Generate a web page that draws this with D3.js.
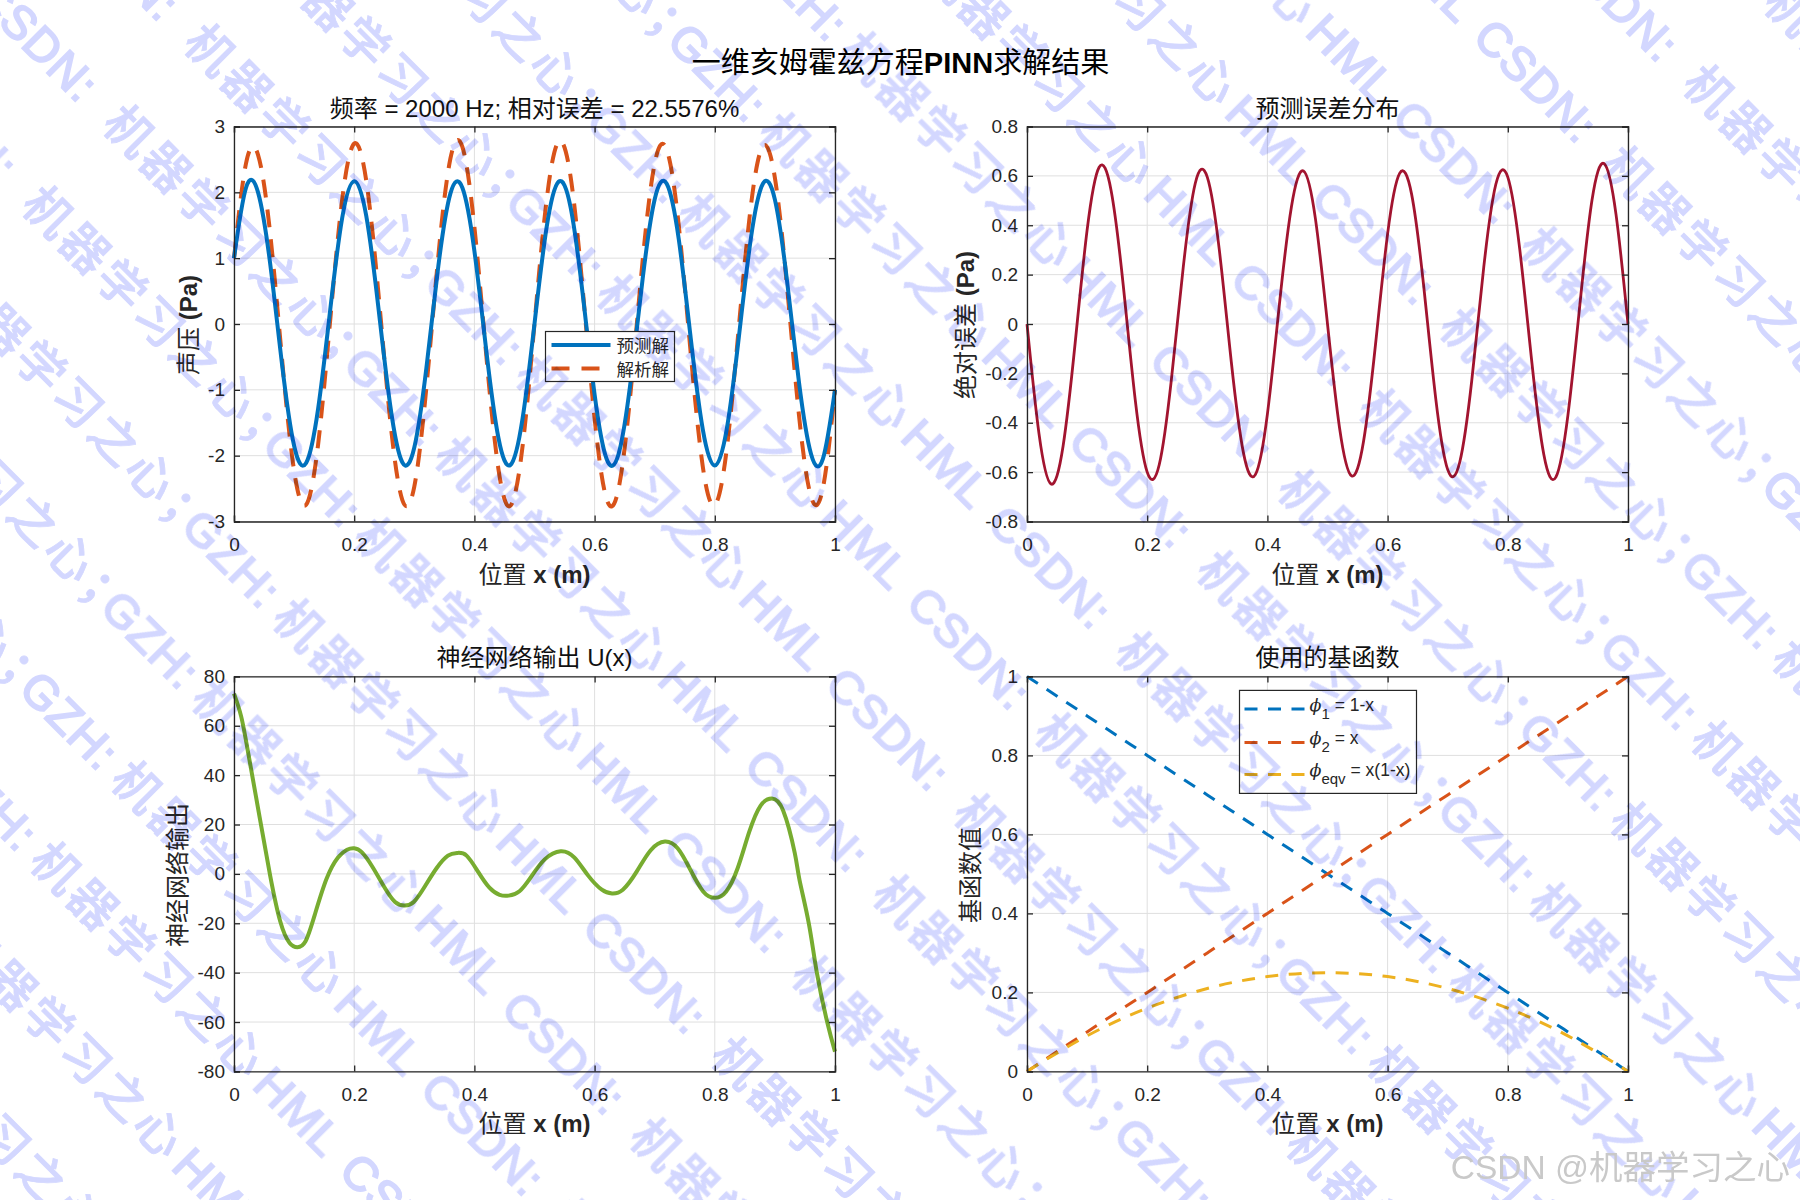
<!DOCTYPE html>
<html>
<head>
<meta charset="utf-8">
<script src="https://cdnjs.cloudflare.com/ajax/libs/d3/7.8.5/d3.min.js"></script>
<style>
  html, body { margin: 0; padding: 0; background: #fff; }
  text { font-family: "Liberation Sans", "Noto Sans CJK SC", sans-serif; fill: #262626; }
  .tick-label { font-size: 19px; }
  .title { font-size: 24px; text-anchor: middle; fill: #111; }
  .label { font-size: 24px; text-anchor: middle; }
  .legend-text { font-size: 17.5px; }
  .bold { font-weight: bold; }
</style>
</head>
<body>
<div id="chart"></div>
<script>
// values
const gridX = [0, 0.02, 0.04, 0.06, 0.08, 0.1, 0.12, 0.14, 0.16, 0.18,
  0.2, 0.22, 0.24, 0.26, 0.28, 0.3, 0.32, 0.34, 0.36, 0.38,
  0.4, 0.42, 0.44, 0.46, 0.48, 0.5, 0.52, 0.54, 0.56, 0.58,
  0.6, 0.62, 0.64, 0.66, 0.68, 0.7, 0.72, 0.74, 0.76, 0.78,
  0.8, 0.82, 0.84, 0.86, 0.88, 0.9, 0.92, 0.94, 0.96, 0.98, 1]
const predicted = [1.0, 2.07, 2.0, 0.93, -0.62, -1.85, -2.11, -1.285, 0.21, 1.61,
  2.17, 1.645, 0.27, -1.24, -2.10, -1.875, -0.675, 0.88, 1.98, 2.07,
  1.11, -0.42, -1.73, -2.14, -1.445, 0.005, 1.46, 2.16, 1.775, 0.47,
  -1.07, -2.05, -1.97, -0.87, 0.69, 1.895, 2.13, 1.29, -0.22, -1.60,
  -2.15, -1.59, -0.20, 1.30, 2.13, 1.89, 0.67, -0.88, -1.97, -2.045, -1.0]
const analytic = [1.0, 2.44, 2.57, 1.39, -0.54, -2.23, -2.745, -1.825, 0.05, 1.89,
  2.74, 2.18, 0.50, -1.47, -2.67, -2.47, -0.975, 1.035, 2.51, 2.69,
  1.475, -0.50, -2.205, -2.76, -1.87, 0.005, 1.87, 2.77, 2.24, 0.55,
  -1.435, -2.66, -2.495, -1.025, 0.97, 2.44, 2.65, 1.50, -0.45, -2.165,
  -2.75, -1.89, -0.045, 1.79, 2.70, 2.22, 0.59, -1.38, -2.62, -2.49, -1.0]
const errors = [0, -0.445, -0.648, -0.495, -0.08, 0.38, 0.635, 0.54, 0.16, -0.305,
  -0.60, -0.57, -0.23, 0.23, 0.57, 0.595, 0.30, -0.155, -0.52, -0.61,
  -0.365, 0.08, 0.475, 0.62, 0.425, 0, -0.42, -0.615, -0.475, -0.08,
  0.365, 0.61, 0.525, 0.155, -0.30, -0.59, -0.56, -0.23, 0.23, 0.565,
  0.595, 0.30, -0.155, -0.53, -0.62, -0.37, 0.08, 0.50, 0.65, 0.445, 0]

const netX = [0, 0.012, 0.024, 0.043, 0.06, 0.077, 0.0925, 0.1055, 0.119, 0.1345, 0.154, 0.173, 0.188, 0.2, 0.2125,
  0.23, 0.249, 0.268, 0.2836, 0.299, 0.318, 0.337, 0.356, 0.3716, 0.387, 0.406, 0.425, 0.442, 0.457,
  0.475, 0.494, 0.517, 0.5436, 0.5665, 0.589, 0.612, 0.629, 0.647, 0.67, 0.693, 0.717, 0.7385, 0.758,
  0.7806, 0.801, 0.819, 0.838, 0.857, 0.876, 0.895, 0.914, 0.933, 0.941, 0.9564, 0.9698, 0.987, 1]
const netOutput = [73, 63.7, 48.5, 22.5, -0.5, -19.3, -28, -29.7, -27.3, -16.5, -2, 6.6, 9.8, 10.4, 8.8,
  3, -4.9, -11.4, -12.8, -11.4, -4.9, 2.3, 7.4, 8.5, 7.4, 0.9, -5.6, -8.5, -8.8,
  -7, -1.3, 5.9, 9.2, 6.6, -0.6, -6.4, -7.9, -6.4, 0.9, 9.5, 13.1, 10.3, 2.3,
  -7.1, -9.7, -7.1, 2.3, 16.8, 27.6, 30.5, 25.5, 8.5, -2.5, -20, -40, -60, -72]

const basisX = [0, 0.1, 0.2, 0.3, 0.4, 0.5, 0.6, 0.7, 0.8, 0.9, 1]
const phi1 = [1, 0.9, 0.8, 0.7, 0.6, 0.5, 0.4, 0.3, 0.2, 0.1, 0]
const phi2 = [0, 0.1, 0.2, 0.3, 0.4, 0.5, 0.6, 0.7, 0.8, 0.9, 1]
const phiEqv = [0, 0.09, 0.16, 0.21, 0.24, 0.25, 0.24, 0.21, 0.16, 0.09, 0]

const xTicks = [0, 0.2, 0.4, 0.6, 0.8, 1]
const pressureTicks = [-3, -2, -1, 0, 1, 2, 3]
const errorTicks = [-0.8, -0.6, -0.4, -0.2, 0, 0.2, 0.4, 0.6, 0.8]
const netTicks = [-80, -60, -40, -20, 0, 20, 40, 60, 80]
const basisTicks = [0, 0.2, 0.4, 0.6, 0.8, 1]

const watermarkParts = ["CSDN:", "机器学习之心；", "GZH:", "机器学习之心", "HML"]

const blue = "#0072BD", orange = "#D95319", yellow = "#EDB120", green = "#77AC30", maroon = "#A2142F"

const wrapper = d3.select("#chart").append("svg")
  .attr("width", 1800)
  .attr("height", 1200)
  .style("display", "block")

const axesWidth = 601, axesHeight = 395
const xScale = d3.scaleLinear().domain([0, 1]).range([0, axesWidth])

function drawPanel(left, top, yDomain, yTicks) {
  const bounds = wrapper.append("g").attr("transform", `translate(${left},${top})`)
  const yScale = d3.scaleLinear().domain(yDomain).range([axesHeight, 0])

  // grid
  bounds.append("g").selectAll("line").data(xTicks).join("line")
    .attr("x1", d => xScale(d)).attr("x2", d => xScale(d))
    .attr("y1", 0).attr("y2", axesHeight)
    .attr("stroke", "#dfdfdf")
  bounds.append("g").selectAll("line").data(yTicks).join("line")
    .attr("y1", d => yScale(d)).attr("y2", d => yScale(d))
    .attr("x1", 0).attr("x2", axesWidth)
    .attr("stroke", "#dfdfdf")

  const marks = bounds.append("g")

  // box and inward ticks, labels come from the main axes
  const box = bounds.append("g")
  const fmt = d => String(d)
  const bottom = box.append("g").attr("transform", `translate(0,${axesHeight})`)
    .call(d3.axisBottom(xScale).tickValues(xTicks).tickSize(-6).tickPadding(15).tickFormat(fmt))
  box.append("g")
    .call(d3.axisLeft(yScale).tickValues(yTicks).tickSize(-6).tickPadding(9).tickFormat(fmt))
  box.append("g").call(d3.axisTop(xScale).tickValues(xTicks).tickSize(-6).tickFormat(""))
  box.append("g").attr("transform", `translate(${axesWidth},0)`)
    .call(d3.axisRight(yScale).tickValues(yTicks).tickSize(-6).tickFormat(""))
  box.selectAll(".domain, .tick line").attr("stroke", "#262626").attr("stroke-width", 1.3)
  box.selectAll("text").attr("class", "tick-label").attr("font-size", null).attr("font-family", null)
  bottom.selectAll("text").attr("y", 14).attr("dy", "0.8em")

  return { bounds, marks, yScale }
}

function drawLine(panel, xs, ys, color, width, dash) {
  const line = d3.line()
    .x(d => xScale(d[0]))
    .y(d => panel.yScale(d[1]))
    .curve(d3.curveNatural)
  return panel.marks.append("path")
    .attr("d", line(d3.zip(xs, ys)))
    .attr("fill", "none")
    .attr("stroke", color)
    .attr("stroke-width", width)
    .attr("stroke-dasharray", dash)
}

// label text is split so the latin part can go bold
function addLabel(sel, cjk, latin) {
  sel.append("tspan").text(cjk)
  sel.append("tspan").attr("class", "bold").text(latin)
}

function xLabel(panel) {
  panel.bounds.append("text").attr("class", "label")
    .attr("x", axesWidth / 2).attr("y", axesHeight + 61)
    .call(addLabel, "位置", " x (m)")
}

function yLabel(panel, x, cjk, latin) {
  panel.bounds.append("text").attr("class", "label")
    .attr("transform", `translate(${x},${axesHeight / 2 + 1}) rotate(-90)`)
    .call(addLabel, cjk, latin)
}

function panelTitle(panel, txt) {
  panel.bounds.append("text").attr("class", "title")
    .attr("x", axesWidth / 2).attr("y", -10).text(txt)
}

// 1. predicted vs analytic
const p1 = drawPanel(234, 126.5, [-3, 3], pressureTicks)
drawLine(p1, gridX, analytic, orange, 4, "18 12")
drawLine(p1, gridX, predicted, blue, 4)
panelTitle(p1, "频率 = 2000 Hz; 相对误差 = 22.5576%")
xLabel(p1)
yLabel(p1, -37, "声压", " (Pa)")

const legend1 = p1.bounds.append("g").attr("transform", "translate(311.5,205)")
legend1.append("rect").attr("width", 129).attr("height", 50)
  .attr("fill", "#fff").attr("stroke", "#262626").attr("stroke-width", 1.2)
legend1.append("line").attr("x1", 6).attr("x2", 65).attr("y1", 13.5).attr("y2", 13.5)
  .attr("stroke", blue).attr("stroke-width", 4)
legend1.append("line").attr("x1", 6).attr("x2", 65).attr("y1", 37).attr("y2", 37)
  .attr("stroke", orange).attr("stroke-width", 4).attr("stroke-dasharray", "18 12")
legend1.append("text").attr("class", "legend-text").attr("x", 71).attr("y", 20).text("预测解")
legend1.append("text").attr("class", "legend-text").attr("x", 71).attr("y", 44).text("解析解")

// 2. error
const p2 = drawPanel(1027, 126.5, [-0.8, 0.8], errorTicks)
drawLine(p2, gridX, errors, maroon, 2.8)
panelTitle(p2, "预测误差分布")
xLabel(p2)
yLabel(p2, -53, "绝对误差", " (Pa)")

// 3. network output
const p3 = drawPanel(234, 676.4, [-80, 80], netTicks)
drawLine(p3, netX, netOutput, green, 4)
panelTitle(p3, "神经网络输出 U(x)")
xLabel(p3)
yLabel(p3, -48.5, "神经网络输出", "")

// 4. basis functions
const p4 = drawPanel(1027, 676.4, [0, 1], basisTicks)
drawLine(p4, basisX, phi1, blue, 3, "13 10.5")
drawLine(p4, basisX, phi2, orange, 3, "13 10.5")
drawLine(p4, basisX, phiEqv, yellow, 3, "13 10.5")
panelTitle(p4, "使用的基函数")
xLabel(p4)
yLabel(p4, -48, "基函数值", "")

const legend4 = p4.bounds.append("g").attr("transform", "translate(212.5,14)")
legend4.append("rect").attr("width", 177).attr("height", 103)
  .attr("fill", "#fff").attr("stroke", "#262626").attr("stroke-width", 1.2)
const legendRows = [
  { color: blue, y: 18.5, sub: "1", rest: " = 1-x" },
  { color: orange, y: 52, sub: "2", rest: " = x" },
  { color: yellow, y: 84, sub: "eqv", rest: " = x(1-x)" },
]
legendRows.forEach(r => {
  legend4.append("line").attr("x1", 5).attr("x2", 66).attr("y1", r.y).attr("y2", r.y)
    .attr("stroke", r.color).attr("stroke-width", 3).attr("stroke-dasharray", "13 10.5")
  const t = legend4.append("text").attr("class", "legend-text").attr("x", 70).attr("y", r.y + 2)
  t.append("tspan").attr("font-style", "italic").attr("font-family", "DejaVu Serif").text("\u03D5")
  t.append("tspan").attr("dy", 8).style("font-size", "15px").text(r.sub)
  t.append("tspan").attr("dy", -8).text(r.rest)
})

// figure title
wrapper.append("text")
  .attr("x", 900.5).attr("y", 73)
  .attr("text-anchor", "middle").attr("font-size", 29)
  .style("fill", "#000")
  .call(s => {
    s.append("tspan").text("一维亥姆霍兹方程")
    s.append("tspan").attr("class", "bold").text("PINN")
    s.append("tspan").text("求解结果")
  })

// diagonal watermark, laid over everything
const mark = wrapper.append("g").style("mix-blend-mode", "multiply")
const partOffset = [0, 128, 369, 460, 684]
const rowStep = 81, period = 770
for (let row = -16; row <= 28; row++) {
  for (let rep = -3; rep <= 3; rep++) {
    watermarkParts.forEach((txt, i) => {
      const d = partOffset[i] + rep * period
      const x = 1390 - row * rowStep + d
      const y = 120 + row * rowStep + d
      if (x < -300 || x > 1850 || y < -300 || y > 1250) return
      const latin = i === 0 || i === 2 || i === 4
      mark.append("text")
        .attr("transform", `translate(${x},${y}) rotate(45)`)
        .attr("font-size", latin ? 47 : 48)
        .attr("letter-spacing", latin ? 1 : 4)
        .attr("font-weight", latin ? 400 : 500)
        .attr("stroke", "#d3d7ff")
        .attr("stroke-width", latin ? 2 : 0.8)
        .style("fill", "#d3d7ff")
        .text(txt)
    })
  }
}

wrapper.append("text")
  .attr("x", 1790).attr("y", 1179)
  .attr("text-anchor", "end").attr("font-size", 33.5)
  .style("fill", "#c9c9c9")
  .text("CSDN @机器学习之心")
</script>
</body>
</html>
